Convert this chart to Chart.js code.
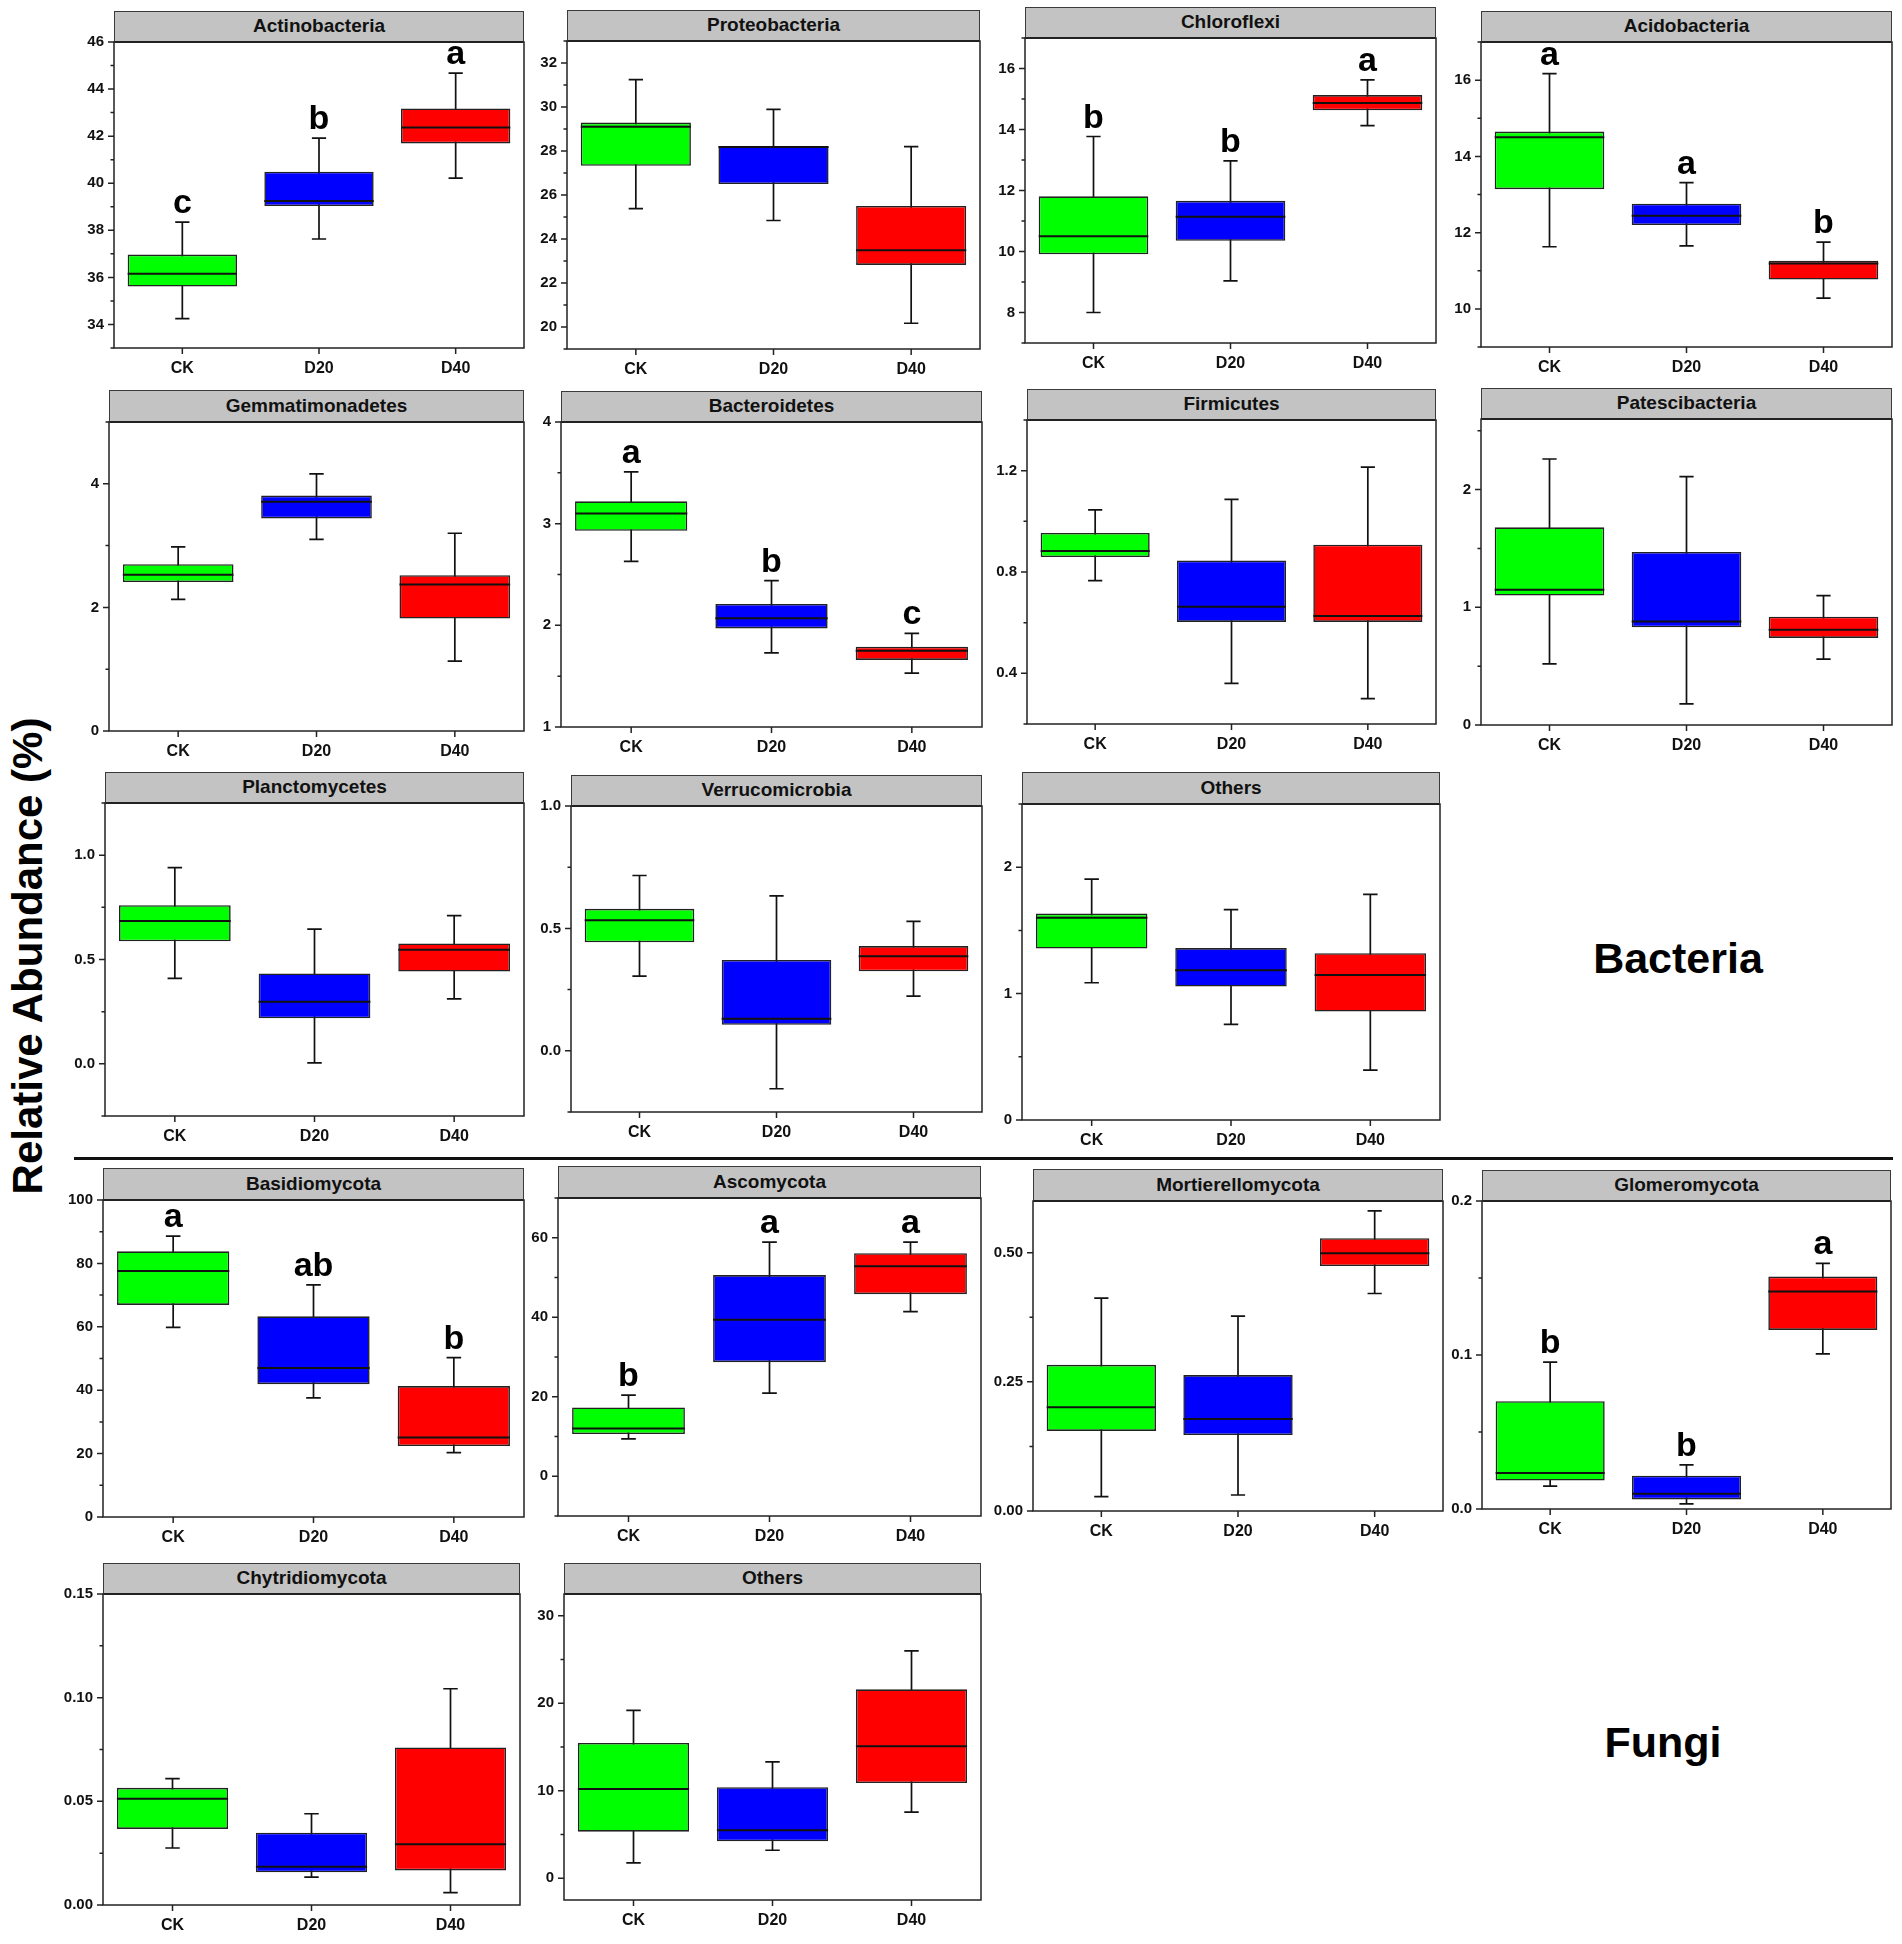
<!DOCTYPE html>
<html>
<head>
<meta charset="utf-8">
<title>Relative abundance box plots</title>
<script src="https://cdn.jsdelivr.net/npm/chart.js@4.4.1/dist/chart.umd.min.js"></script>
<style>
  html, body { margin: 0; padding: 0; background: #fff; }
  body { width: 1902px; height: 1944px; position: relative; overflow: hidden; font-family: "Liberation Sans", Arial, sans-serif; }
  .panel { position: absolute; }
  .title {
    position: absolute; box-sizing: border-box; background: #c3c3c3;
    border: 1.5px solid #3a3a3a; border-bottom: 2.5px solid #222;
    text-align: center; font-weight: bold; font-size: 19px; color: #111;
  }
  .big { position: absolute; font-weight: bold; color: #000; white-space: nowrap; font-size: 43px; transform: translate(-50%, -50%); }
  #ylab { left: 28px; top: 956px; font-size: 42px; transform: translate(-50%, -50%) rotate(-90deg); }
  #sep { position: absolute; left: 74px; top: 1157px; width: 1819px; height: 3px; background: #111; }
</style>
</head>
<body>
<div id="ylab" class="big">Relative Abundance (%)</div>
<div class="big" style="left:1678px; top:958px;">Bacteria</div>
<div class="big" style="left:1663px; top:1742px;">Fungi</div>
<div id="sep"></div>
<script>
const groups = ['CK', 'D20', 'D40'];
const groupColors = ['#00ff00', '#0000ff', '#ff0000'];

const phyla = [
    'Actinobacteria', 'Proteobacteria', 'Chloroflexi', 'Acidobacteria',
    'Gemmatimonadetes', 'Bacteroidetes', 'Firmicutes', 'Patescibacteria',
    'Planctomycetes', 'Verrucomicrobia', 'Others',
    'Basidiomycota', 'Ascomycota', 'Mortierellomycota', 'Glomeromycota',
    'Chytridiomycota', 'Others'
];

// box statistics per phylum, in the order CK, D20, D40
const whiskerLow = [
    [34.25, 37.63, 40.22], [25.38, 24.84, 20.17], [8.0, 9.04, 14.13], [11.63, 11.65, 10.28],
    [2.13, 3.10, 1.13], [2.63, 1.73, 1.53], [0.766, 0.36, 0.30], [0.52, 0.18, 0.56],
    [0.41, 0.005, 0.311], [0.305, -0.155, 0.223], [1.086, 0.756, 0.394],
    [59.8, 37.6, 20.3], [9.4, 20.9, 41.4], [0.028, 0.031, 0.421], [0.0148, 0.0033, 0.1007],
    [0.0275, 0.0134, 0.006], [1.75, 3.19, 7.56]
];
const q1 = [
    [35.61, 39.03, 41.69], [27.33, 26.5, 22.82], [9.91, 10.35, 14.63], [13.14, 12.2, 10.77],
    [2.41, 3.44, 1.82], [2.93, 1.97, 1.66], [0.859, 0.603, 0.603], [1.10, 0.83, 0.74],
    [0.587, 0.218, 0.442], [0.443, 0.106, 0.325], [1.357, 1.056, 0.858],
    [66.9, 41.9, 22.4], [10.6, 28.7, 45.8], [0.155, 0.147, 0.474], [0.0185, 0.0062, 0.1163],
    [0.0367, 0.0158, 0.0167], [5.32, 4.22, 10.87]
];
const medians = [
    [36.15, 39.25, 42.37], [29.1, 28.18, 23.49], [10.5, 11.14, 14.87], [14.5, 12.44, 11.19],
    [2.53, 3.71, 2.37], [3.10, 2.07, 1.75], [0.883, 0.663, 0.626], [1.15, 0.88, 0.81],
    [0.684, 0.298, 0.547], [0.533, 0.131, 0.386], [1.60, 1.185, 1.147],
    [77.6, 47.0, 25.1], [12.0, 39.4, 52.8], [0.201, 0.178, 0.499], [0.0233, 0.0099, 0.1412],
    [0.0513, 0.0185, 0.0293], [10.19, 5.47, 15.1]
];
const q3 = [
    [36.97, 40.49, 43.18], [29.29, 28.21, 25.5], [11.81, 11.66, 15.13], [14.65, 12.76, 11.26],
    [2.70, 3.81, 2.52], [3.22, 2.21, 1.79], [0.954, 0.845, 0.908], [1.68, 1.47, 0.92],
    [0.76, 0.433, 0.577], [0.58, 0.371, 0.428], [1.633, 1.36, 1.32],
    [83.8, 63.3, 41.3], [17.3, 50.6, 56.1], [0.283, 0.263, 0.528], [0.070, 0.0216, 0.1509],
    [0.0565, 0.0349, 0.076], [15.46, 10.4, 21.6]
];
const whiskerHigh = [
    [38.35, 41.92, 44.68], [31.24, 29.89, 28.2], [13.77, 12.97, 15.63], [16.17, 13.31, 11.75],
    [2.98, 4.16, 3.2], [3.51, 2.44, 1.92], [1.045, 1.087, 1.214], [2.26, 2.11, 1.10],
    [0.94, 0.646, 0.71], [0.716, 0.633, 0.529], [1.906, 1.665, 1.785],
    [88.6, 73.2, 50.3], [20.4, 58.9, 58.9], [0.412, 0.377, 0.581], [0.0954, 0.0286, 0.1595],
    [0.061, 0.044, 0.1043], [19.18, 13.3, 26.0]
];
const letters = [
    ['c', 'b', 'a'], null, ['b', 'b', 'a'], ['a', 'a', 'b'],
    null, ['a', 'b', 'c'], null, null,
    null, null, null,
    ['a', 'ab', 'b'], ['b', 'a', 'a'], null, ['b', 'b', 'a'],
    null, null
];

// y axis of each panel
const yMin = [33, 19, 7, 9, 0, 1, 0.2, 0, -0.25, -0.25, 0, 0, -10, 0, 0, 0, -2.5];
const yMax = [46, 33, 17, 17, 5, 4, 1.4, 2.6, 1.25, 1.0, 2.5, 100, 70, 0.6, 0.2, 0.15, 32.5];
const yMajor = [2, 2, 2, 2, 2, 1, 0.4, 1, 0.5, 0.5, 1, 20, 20, 0.25, 0.1, 0.05, 10];
const yMinor = [1, 1, 1, 1, 1, 0.5, 0.2, 0.5, 0.25, 0.25, 0.5, 10, 10, 0.125, 0.05, 0.025, 5];
const yDecimals = [0, 0, 0, 0, 0, 0, 1, 0, 1, 1, 0, 0, 0, 2, 1, 2, 0];

// page layout: [left, right, titleTop, plotTop, plotBottom]
const frames = [
    [114, 524, 11, 42, 348], [567, 980, 10, 41, 349], [1025, 1436, 7, 38, 343], [1481, 1892, 11, 42, 347],
    [109, 524, 390, 422, 731], [561, 982, 391, 422, 727], [1027, 1436, 389, 420, 724], [1481, 1892, 388, 419, 725],
    [105, 524, 772, 803, 1116], [571, 982, 775, 806, 1112], [1022, 1440, 772, 804, 1120],
    [103, 524, 1168, 1200, 1517], [558, 981, 1166, 1198, 1516], [1033, 1443, 1169, 1201, 1511], [1482, 1891, 1170, 1201, 1509],
    [103, 520, 1563, 1594, 1905], [564, 981, 1563, 1594, 1900]
];

const Y_W = 70, X_H = 40, PAD_T = 12, PAD_R = 6;
const FONT = '"Liberation Sans", Arial, sans-serif';

function tickValues(p) {
    const out = [];
    let v = Math.ceil((yMin[p] - 1e-9) / yMinor[p]) * yMinor[p];
    while (v <= yMax[p] + 1e-9) {
        const r = v / yMajor[p];
        out.push({ value: v, major: Math.abs(r - Math.round(r)) < 1e-6 });
        v += yMinor[p];
        v = Math.round(v * 1e6) / 1e6;
    }
    return out;
}

const boxPlot = {
    id: 'boxPlot',
    beforeDatasetsDraw(chart, args, opts) {
        const p = opts.panel;
        const y = chart.scales.y;
        const ctx = chart.ctx;
        ctx.save();
        ctx.strokeStyle = '#111';
        ctx.lineWidth = 1.7;
        chart.getDatasetMeta(0).data.forEach((bar, i) => {
            const lo = y.getPixelForValue(whiskerLow[p][i]);
            const hi = y.getPixelForValue(whiskerHigh[p][i]);
            const cap = bar.width * 0.065;
            ctx.beginPath();
            ctx.moveTo(bar.x, lo); ctx.lineTo(bar.x, hi);
            ctx.moveTo(bar.x - cap, lo); ctx.lineTo(bar.x + cap, lo);
            ctx.moveTo(bar.x - cap, hi); ctx.lineTo(bar.x + cap, hi);
            ctx.stroke();
        });
        ctx.restore();
    },
    afterDatasetsDraw(chart, args, opts) {
        const p = opts.panel;
        const y = chart.scales.y;
        const ctx = chart.ctx;
        ctx.save();
        ctx.strokeStyle = '#111';
        ctx.lineWidth = 2;
        ctx.fillStyle = '#000';
        ctx.font = 'bold 34px ' + FONT;
        ctx.textAlign = 'center';
        ctx.textBaseline = 'alphabetic';
        chart.getDatasetMeta(0).data.forEach((bar, i) => {
            const m = y.getPixelForValue(medians[p][i]);
            ctx.beginPath();
            ctx.moveTo(bar.x - bar.width / 2, m);
            ctx.lineTo(bar.x + bar.width / 2, m);
            ctx.stroke();
            if (letters[p]) {
                ctx.fillText(letters[p][i], bar.x, y.getPixelForValue(whiskerHigh[p][i]) - 9);
            }
        });
        ctx.restore();
    },
    afterDraw(chart, args, opts) {
        const p = opts.panel;
        const a = chart.chartArea;
        const y = chart.scales.y;
        const ctx = chart.ctx;
        ctx.save();
        ctx.strokeStyle = '#222';
        ctx.lineWidth = 1.5;
        ctx.strokeRect(a.left, a.top, a.right - a.left, a.bottom - a.top);
        ctx.beginPath();
        tickValues(p).forEach(t => {
            const py = y.getPixelForValue(t.value);
            ctx.moveTo(a.left, py);
            ctx.lineTo(a.left - (t.major ? 6 : 3.5), py);
        });
        chart.getDatasetMeta(0).data.forEach(bar => {
            ctx.moveTo(bar.x, a.bottom);
            ctx.lineTo(bar.x, a.bottom + 6);
        });
        ctx.stroke();
        ctx.restore();
    }
};

phyla.forEach((name, p) => {
    const [left, right, titleTop, plotTop, plotBottom] = frames[p];
    const w = right - left + Y_W + PAD_R;
    const h = plotBottom - plotTop + PAD_T + X_H;

    const canvas = document.createElement('canvas');
    canvas.className = 'panel';
    canvas.width = w;
    canvas.height = h;
    canvas.style.left = (left - Y_W) + 'px';
    canvas.style.top = (plotTop - PAD_T) + 'px';
    canvas.style.width = w + 'px';
    canvas.style.height = h + 'px';
    document.body.appendChild(canvas);

    const title = document.createElement('div');
    title.className = 'title';
    title.textContent = name;
    title.style.left = left + 'px';
    title.style.top = titleTop + 'px';
    title.style.width = (right - left) + 'px';
    title.style.height = (plotTop - titleTop + 1) + 'px';
    title.style.lineHeight = (plotTop - titleTop - 3) + 'px';
    document.body.appendChild(title);

    const majors = tickValues(p).filter(t => t.major).map(t => ({ value: t.value }));

    new Chart(canvas.getContext('2d'), {
        type: 'bar',
        data: {
            labels: groups,
            datasets: [{
                data: q1[p].map((lo, i) => [lo, q3[p][i]]),
                backgroundColor: groupColors,
                borderColor: '#222',
                borderWidth: 1.6,
                borderSkipped: false,
                barPercentage: 0.8,
                categoryPercentage: 1.0
            }]
        },
        options: {
            responsive: false,
            animation: false,
            events: [],
            layout: { padding: { left: 0, right: PAD_R, top: PAD_T, bottom: 0 } },
            plugins: {
                legend: { display: false },
                tooltip: { enabled: false },
                boxPlot: { panel: p }
            },
            scales: {
                x: {
                    grid: { display: false, drawTicks: false },
                    border: { display: false },
                    ticks: { color: '#111', padding: 11, font: { family: FONT, size: 16, weight: 'bold' } },
                    afterFit: s => { s.height = X_H; s.paddingLeft = 0; s.paddingRight = 0; }
                },
                y: {
                    min: yMin[p],
                    max: yMax[p],
                    grid: { display: false, drawTicks: false },
                    border: { display: false },
                    ticks: {
                        color: '#111',
                        padding: 10,
                        font: { family: FONT, size: 15, weight: 'bold' },
                        callback: v => Number(v).toFixed(yDecimals[p])
                    },
                    afterBuildTicks: s => { s.ticks = majors.map(t => ({ value: t.value })); },
                    afterFit: s => { s.width = Y_W; s.paddingTop = 0; s.paddingBottom = 0; }
                }
            }
        },
        plugins: [boxPlot]
    });
});
</script>
</body>
</html>
